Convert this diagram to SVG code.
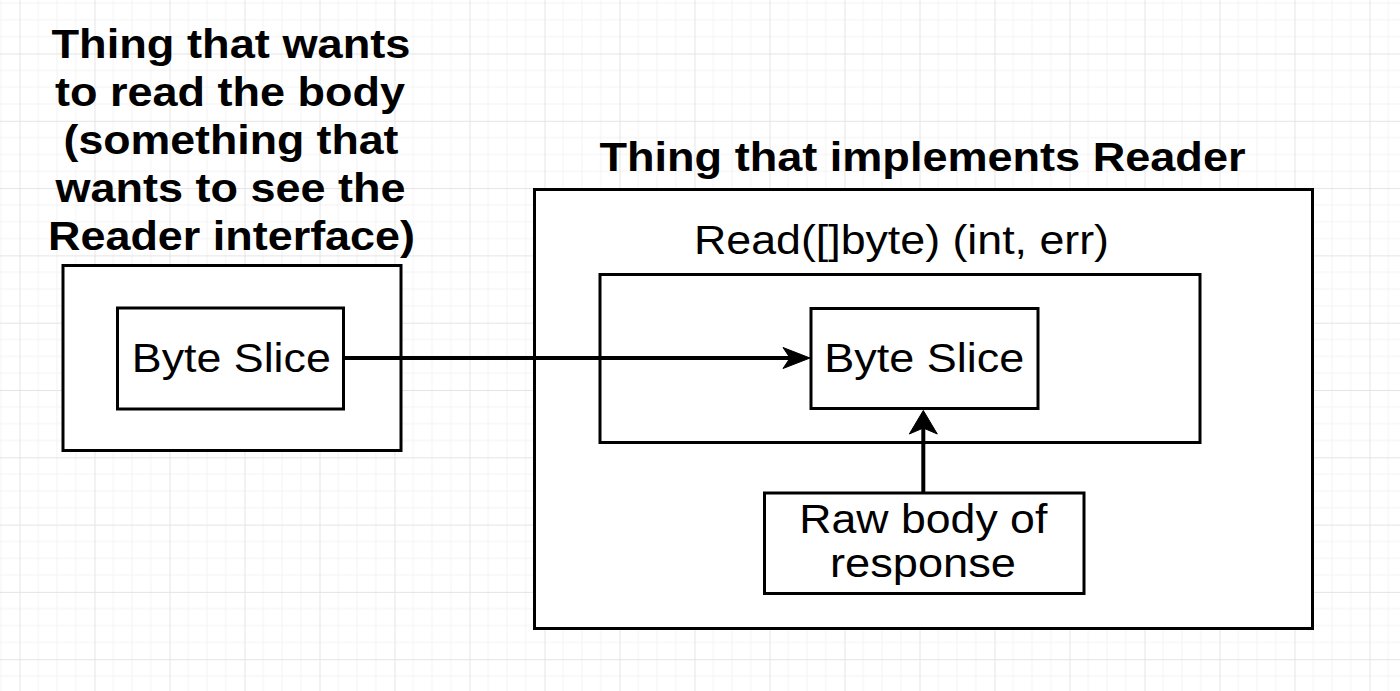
<svg xmlns="http://www.w3.org/2000/svg" width="1400" height="691" viewBox="0 0 1400 691">
  <style>
    .box { fill: #ffffff; stroke: #000000; stroke-width: 3; }
    .lbl { font-family: "Liberation Sans", Arial, Helvetica, sans-serif; font-size: 40px; fill: #000000; text-anchor: middle; }
    .title { font-weight: bold; }
    .conn { fill: none; stroke: #000000; stroke-width: 4; }
  </style>
  <defs>
    <pattern id="grid" patternUnits="userSpaceOnUse" x="19.5" y="53.5" width="75" height="67.3">
      <rect width="75" height="67.3" fill="#ffffff"/>
      <path d="M18.75,0V67.3M37.5,0V67.3M56.25,0V67.3M0,16.83H75M0,33.65H75M0,50.48H75" stroke="#f3f3f3" stroke-width="1" fill="none"/>
      <path d="M0.5,0V67.3M0,0.5H75" stroke="#e4e4e4" stroke-width="1" fill="none"/>
    </pattern>
    <marker id="arrowH" markerUnits="userSpaceOnUse" markerWidth="40" markerHeight="40" refX="0" refY="0" orient="auto" overflow="visible">
      <path d="M20,0 L-7,-10.5 L0,0 L-7,10.5 Z" fill="#000000" stroke="#000000" stroke-width="1"/>
    </marker>
    <marker id="arrowV" markerUnits="userSpaceOnUse" markerWidth="40" markerHeight="40" refX="0" refY="0" orient="auto" overflow="visible">
      <path d="M17.5,0 L-6,-14 L0,0 L-6,14 Z" fill="#000000" stroke="#000000" stroke-width="1"/>
    </marker>
  </defs>

  <rect x="0" y="0" width="1400" height="691" fill="url(#grid)"/>

  <g id="reader-user">
    <rect class="box" x="63" y="265.5" width="338" height="185"/>
    <text class="lbl title" x="231" y="58" textLength="359" lengthAdjust="spacingAndGlyphs">Thing that wants</text>
    <text class="lbl title" x="230" y="106" textLength="350" lengthAdjust="spacingAndGlyphs">to read the body</text>
    <text class="lbl title" x="231" y="154" textLength="335" lengthAdjust="spacingAndGlyphs">(something that</text>
    <text class="lbl title" x="230.5" y="202" textLength="350" lengthAdjust="spacingAndGlyphs">wants to see the</text>
    <text class="lbl title" x="231.5" y="250" textLength="367" lengthAdjust="spacingAndGlyphs">Reader interface)</text>
  </g>

  <g id="byte-slice-left">
    <rect class="box" x="117.5" y="308" width="226" height="101"/>
    <text class="lbl" x="231.3" y="372" textLength="199" lengthAdjust="spacingAndGlyphs">Byte Slice</text>
  </g>

  <g id="reader-impl">
    <rect class="box" x="534.5" y="189.5" width="778" height="439"/>
    <text class="lbl title" x="922.5" y="170.5" textLength="646" lengthAdjust="spacingAndGlyphs">Thing that implements Reader</text>
  </g>

  <g id="read-func">
    <rect class="box" x="600" y="274.5" width="600" height="168"/>
    <text class="lbl" x="901.5" y="254" textLength="415" lengthAdjust="spacingAndGlyphs">Read([]byte) (int, err)</text>
  </g>

  <g id="byte-slice-right">
    <rect class="box" x="811" y="308.5" width="227" height="100"/>
    <text class="lbl" x="924.3" y="372" textLength="200" lengthAdjust="spacingAndGlyphs">Byte Slice</text>
  </g>

  <g id="raw-body">
    <rect class="box" x="764.5" y="493" width="319.5" height="100.5"/>
    <text class="lbl" x="923.3" y="533" textLength="248" lengthAdjust="spacingAndGlyphs">Raw body of</text>
    <text class="lbl" x="923" y="577" textLength="186" lengthAdjust="spacingAndGlyphs">response</text>
  </g>

  <g id="connectors">
    <path class="conn" d="M343,358 H790" marker-end="url(#arrowH)"/>
    <path class="conn" d="M923.3,493 V428" marker-end="url(#arrowV)"/>
  </g>
</svg>
